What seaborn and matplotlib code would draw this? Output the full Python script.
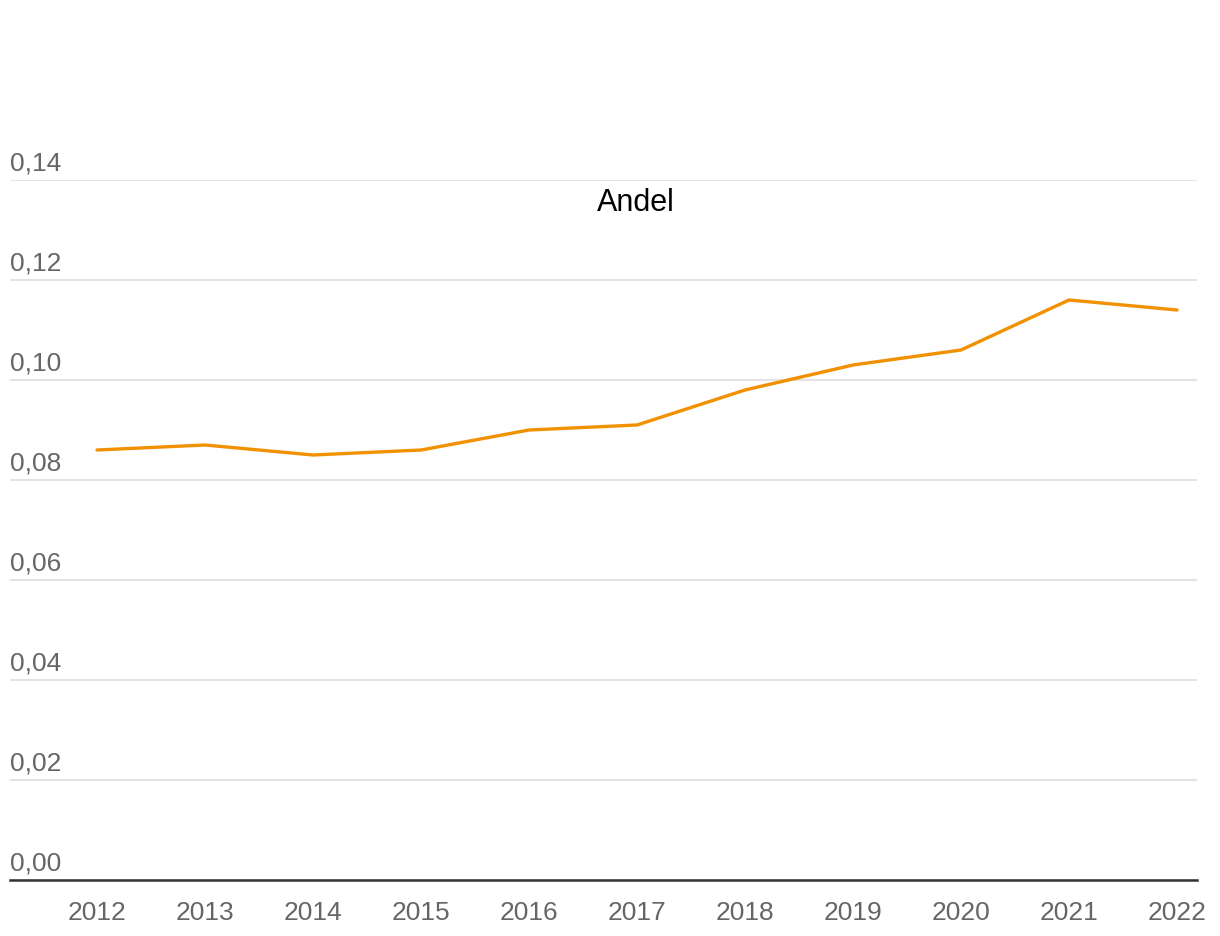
import matplotlib
matplotlib.use("Agg")
import matplotlib.pyplot as plt
import matplotlib.transforms as mtransforms
import seaborn as sns
import pandas as pd

years = [2012, 2013, 2014, 2015, 2016, 2017, 2018, 2019, 2020, 2021, 2022]
andel = [0.086, 0.087, 0.085, 0.086, 0.090, 0.091, 0.098, 0.103, 0.106, 0.116, 0.114]
yticks = [0.00, 0.02, 0.04, 0.06, 0.08, 0.10, 0.12, 0.14]
ytick_labels = ["0,00", "0,02", "0,04", "0,06", "0,08", "0,10", "0,12", "0,14"]
series_name = "Andel"

sns.set_theme(style="white")
plt.rcParams["font.family"] = ["Liberation Sans", "DejaVu Sans"]

df = pd.DataFrame({"year": years, "value": andel})

fig = plt.figure(figsize=(12.2, 9.36), dpi=100)
ax = fig.add_axes([10/1220, 1-880/936, 1187/1220, 700/936])

sns.lineplot(data=df, x="year", y="value", ax=ax, color="#F29100", linewidth=2.4)

ax.set_xlim(2011.194, 2022.185)
ax.set_ylim(0, 0.14)
ax.set_xticks(years)
ax.set_xticklabels([str(y) for y in years])
ax.set_yticks(yticks)
ax.set_yticklabels(ytick_labels)
ax.set_xlabel("")
ax.set_ylabel("")

ax.grid(axis="y", color="#e3e3e3", linewidth=1.4)
ax.grid(axis="x", visible=False)
ax.set_axisbelow(True)
for s in ["top", "right", "left"]:
    ax.spines[s].set_visible(False)
ax.spines["bottom"].set_color("#333333")
ax.spines["bottom"].set_linewidth(1.8)
ax.spines["bottom"].set_zorder(5)

ax.tick_params(axis="x", length=0, pad=15, labelsize=19, labelcolor="#666666")
ax.tick_params(axis="y", length=0, pad=0, labelsize=19, labelcolor="#666666")
offset = mtransforms.ScaledTranslation(0, 7/72, fig.dpi_scale_trans)
for lab in ax.get_yticklabels():
    lab.set_horizontalalignment("left")
    lab.set_verticalalignment("baseline")
    lab.set_transform(lab.get_transform() + offset)

ax.text(0.527, 0.967, series_name, transform=ax.transAxes, ha="center", va="center",
        fontsize=22, color="#000000")

fig.savefig("out.png", dpi=100)
